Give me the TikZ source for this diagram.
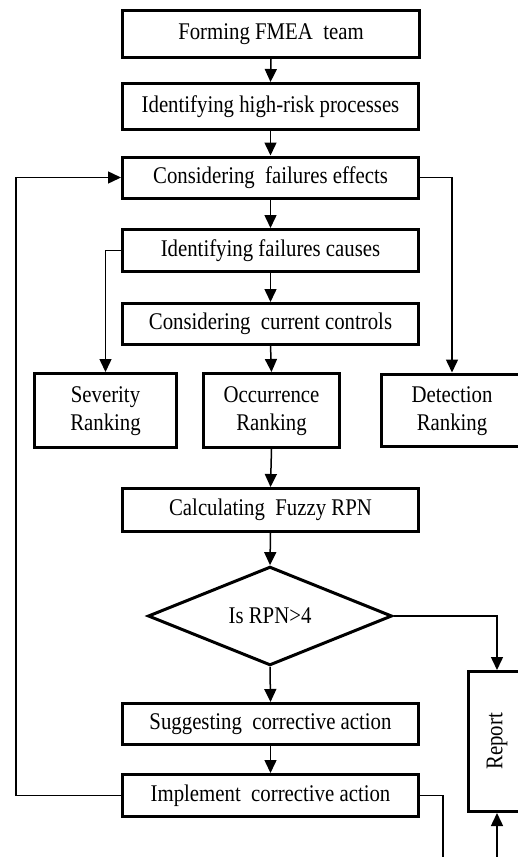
\documentclass[tikz,border=0pt]{standalone}
\usepackage{fontspec}
\setmainfont{Liberation Serif}
\usetikzlibrary{shapes.geometric,arrows.meta}
\newcommand{\stx}[1]{\scalebox{1}[1.15]{#1}}
\begin{document}
\begin{tikzpicture}[x=1pt,y=-1pt,
  box/.style={draw,line width=3pt,inner sep=0pt,align=center,
    font=\fontsize{20.8}{27}\selectfont},
  conn/.style={line width=1.5pt,-{Triangle[length=13pt,width=12pt]}},
  plain/.style={line width=1.5pt}]
\useasboundingbox (0,0) rectangle (518,857);
\fill[white] (0,0) rectangle (518,857);
\clip (0,0) rectangle (518,857);

\node[box,minimum width=297pt,minimum height=47pt] (b1) at (271,34) {\stx{Forming FMEA\ \ team}};
\node[box,minimum width=296pt,minimum height=46pt] (b2) at (270.5,106.5) {\stx{Identifying high-risk processes}};
\node[box,minimum width=296pt,minimum height=41pt] (b3) at (270.5,177.5) {\stx{Considering\ \ failures effects}};
\node[box,minimum width=296pt,minimum height=42pt] (b4) at (270.5,250.5) {\stx{Identifying failures causes}};
\node[box,minimum width=296pt,minimum height=41pt] (b5) at (270.5,324) {\stx{Considering\ \ current controls}};
\node[box,minimum width=142pt,minimum height=74pt] (sev) at (105.5,410.5) {\stx{\begin{tabular}{@{}c@{}}Severity\\[-3pt]Ranking\end{tabular}}};
\node[box,minimum width=136pt,minimum height=74pt] (occ) at (271.5,410.5) {\stx{\begin{tabular}{@{}c@{}}Occurrence\\[-3pt]Ranking\end{tabular}}};
\node[box,minimum width=141pt,minimum height=72pt] (det) at (452,410) {\stx{\begin{tabular}{@{}c@{}}Detection\\[-3pt]Ranking\end{tabular}}};
\node[box,minimum width=296pt,minimum height=43pt] (calc) at (270.5,510) {\stx{Calculating\ \ Fuzzy RPN}};
\node[box,diamond,minimum width=244pt,minimum height=90pt] (dia) at (270,616) {\stx{Is RPN>4}};
\node[box,minimum width=296pt,minimum height=41pt] (sug) at (270.5,724) {\stx{Suggesting\ \ corrective action}};
\node[box,minimum width=296pt,minimum height=42pt] (imp) at (270.5,795.5) {\stx{Implement\ \ corrective action}};
\node[box,minimum width=57pt,minimum height=140pt] (rep) at (497,741.5) {\rotatebox{90}{\stx{Report}}};

\coordinate (e1) at (443,870);
\coordinate (e2) at (497,870);

\draw[conn] (b1.south) -- (b2.north);
\draw[conn] (b2.south) -- (b3.north);
\draw[conn] (b3.south) -- (b4.north);
\draw[conn] (b4.south) -- (b5.north);
\draw[conn] (b5.south) -- (occ.north);
\draw[conn] (occ.south) -- (calc.north);
\draw[conn] (calc.south) -- (dia.north);
\draw[conn] (dia.south) -- (sug.north);
\draw[conn] (sug.south) -- (imp.north);
\draw[conn] (b4.west) -| (sev.north);
\draw[conn] (b3.east) -| (det.north);
\draw[conn] (dia.east) -| (rep.north);
\draw[conn] (imp.west) -- ++(-105,0) |- (b3.west);
\draw[plain] (imp.east) -| (e1);
\draw[conn] (e2) -- (rep.south);
\end{tikzpicture}
\end{document}
